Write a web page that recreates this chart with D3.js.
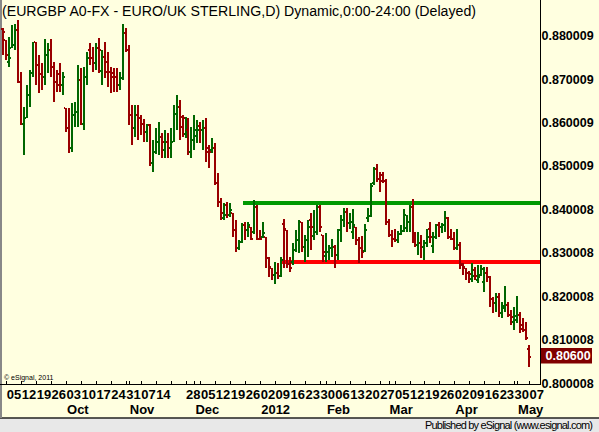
<!DOCTYPE html>
<html>
<head>
<meta charset="utf-8">
<script src="https://d3js.org/d3.v7.min.js"></script>
<style>
  body { margin: 0; background: #fff; }
  svg { display: block; }
  text { font-family: "Liberation Sans", Arial, sans-serif; }
</style>
</head>
<body>
<svg width="599" height="432"></svg>
<script>
// daily EUR/GBP bars, first bar Fri 2 Sep 2011, weekdays only
var firstDay = new Date(2011, 8, 2);
var lastDay = new Date(2012, 4, 7);

var open = [.8815,.8790,.8739,.8772,.8779,.8813,.8694,.8597,.8611,.8664,
  .8714,.8785,.8733,.8712,.8705,.8756,.8767,.8729,.8694,.8712,
  .8687,.8634,.8588,.8541,.8618,.8625,.8698,.8597,.8706,.8767,
  .8748,.8737,.8771,.8719,.8752,.8740,.8717,.8715,.8706,.8687,
  .8702,.8806,.8767,.8618,.8587,.8618,.8610,.8597,.8579,.8594,
  .8506,.8533,.8556,.8567,.8537,.8556,.8541,.8556,.8619,.8636,
  .8614,.8574,.8583,.8533,.8560,.8569,.8592,.8583,.8587,.8541,
  .8537,.8541,.8460,.8418,.8380,.8410,.8387,.8392,.8353,.8311,
  .8326,.8364,.8353,.8360,.8349,.8406,.8333,.8336,.8337,.8287,
  .8264,.8249,.8253,.8247,.8366,.8353,.8274,.8279,.8307,.8330,
  .8371,.8314,.8330,.8376,.8339,.8349,.8406,.8341,.8293,.8303,
  .8310,.8314,.8295,.8353,.8376,.8395,.8368,.8348,.8360,.8330,
  .8310,.8304,.8380,.8385,.8460,.8493,.8469,.8479,.8466,.8372,
  .8341,.8333,.8330,.8343,.8350,.8357,.8372,.8406,.8330,.8318,
  .8323,.8314,.8323,.8355,.8316,.8336,.8364,.8360,.8363,.8380,
  .8336,.8333,.8310,.8318,.8274,.8265,.8253,.8240,.8260,.8237,
  .8249,.8233,.8254,.8245,.8193,.8184,.8199,.8161,.8173,.8180,
  .8157,.8141,.8145,.8157,.8134,.8122,.8078];

var high = [.8817,.8790,.8798,.8825,.8827,.8836,.8717,.8637,.8687,.8721,
  .8786,.8786,.8756,.8737,.8793,.8783,.8793,.8740,.8721,.8737,
  .8717,.8634,.8634,.8645,.8648,.8733,.8725,.8729,.8763,.8783,
  .8775,.8783,.8794,.8767,.8786,.8763,.8729,.8725,.8725,.8717,
  .8827,.8817,.8779,.8641,.8641,.8641,.8618,.8608,.8598,.8598,
  .8560,.8587,.8602,.8575,.8583,.8575,.8587,.8641,.8664,.8652,
  .8618,.8614,.8610,.8591,.8618,.8606,.8602,.8606,.8610,.8548,
  .8565,.8552,.8483,.8426,.8415,.8417,.8415,.8392,.8376,.8330,
  .8368,.8372,.8372,.8360,.8422,.8410,.8353,.8371,.8337,.8291,
  .8264,.8280,.8277,.8291,.8377,.8353,.8290,.8323,.8353,.8376,
  .8372,.8341,.8376,.8391,.8399,.8410,.8410,.8341,.8345,.8318,
  .8333,.8318,.8356,.8387,.8403,.8403,.8391,.8400,.8360,.8337,
  .8339,.8366,.8403,.8460,.8498,.8504,.8487,.8487,.8469,.8378,
  .8353,.8355,.8351,.8364,.8400,.8387,.8410,.8423,.8349,.8349,
  .8341,.8330,.8354,.8372,.8349,.8366,.8372,.8369,.8396,.8383,
  .8356,.8349,.8356,.8326,.8276,.8266,.8257,.8276,.8268,.8272,
  .8272,.8268,.8267,.8247,.8198,.8208,.8207,.8187,.8224,.8187,
  .8168,.8176,.8201,.8164,.8149,.8141,.8088];

var low = [.8756,.8744,.8729,.8771,.8767,.8691,.8595,.8525,.8611,.8637,
  .8706,.8687,.8668,.8675,.8687,.8714,.8706,.8648,.8671,.8671,
  .8664,.8579,.8530,.8532,.8591,.8591,.8595,.8583,.8687,.8733,
  .8717,.8721,.8714,.8687,.8702,.8683,.8668,.8671,.8671,.8675,
  .8698,.8763,.8595,.8548,.8568,.8560,.8571,.8556,.8556,.8500,
  .8486,.8528,.8525,.8518,.8518,.8518,.8518,.8556,.8583,.8560,
  .8568,.8564,.8525,.8518,.8537,.8553,.8552,.8537,.8510,.8495,
  .8530,.8456,.8406,.8376,.8376,.8380,.8383,.8336,.8302,.8306,
  .8322,.8330,.8337,.8330,.8343,.8330,.8330,.8334,.8264,.8245,
  .8237,.8228,.8240,.8245,.8264,.8265,.8256,.8272,.8302,.8300,
  .8303,.8280,.8291,.8306,.8330,.8341,.8349,.8280,.8280,.8283,
  .8291,.8264,.8283,.8326,.8360,.8349,.8356,.8333,.8318,.8276,
  .8288,.8303,.8371,.8383,.8456,.8464,.8441,.8460,.8364,.8336,
  .8314,.8326,.8322,.8341,.8349,.8349,.8349,.8323,.8314,.8295,
  .8287,.8283,.8314,.8322,.8299,.8333,.8336,.8346,.8349,.8333,
  .8330,.8306,.8306,.8262,.8249,.8237,.8230,.8233,.8237,.8230,
  .8247,.8210,.8233,.8176,.8162,.8164,.8153,.8149,.8164,.8153,
  .8134,.8122,.8138,.8115,.8118,.8099,.8038];

var close = [.8808,.8756,.8748,.8779,.8813,.8694,.8597,.8611,.8664,.8714,
  .8785,.8733,.8712,.8705,.8756,.8767,.8729,.8694,.8687,.8687,
  .8705,.8588,.8541,.8618,.8625,.8698,.8597,.8706,.8748,.8748,
  .8737,.8771,.8767,.8752,.8717,.8717,.8706,.8706,.8687,.8702,
  .8806,.8767,.8618,.8587,.8618,.8610,.8597,.8579,.8594,.8506,
  .8533,.8556,.8567,.8556,.8556,.8541,.8556,.8619,.8636,.8591,
  .8610,.8583,.8533,.8560,.8583,.8583,.8583,.8587,.8533,.8533,
  .8541,.8460,.8418,.8391,.8387,.8387,.8399,.8353,.8311,.8326,
  .8364,.8353,.8364,.8333,.8406,.8333,.8332,.8346,.8287,.8268,
  .8249,.8253,.8247,.8283,.8355,.8274,.8265,.8307,.8330,.8371,
  .8314,.8330,.8360,.8360,.8349,.8406,.8360,.8303,.8303,.8310,
  .8314,.8295,.8353,.8376,.8395,.8368,.8372,.8364,.8330,.8310,
  .8303,.8353,.8385,.8454,.8493,.8469,.8466,.8466,.8372,.8341,
  .8333,.8330,.8343,.8350,.8387,.8372,.8406,.8330,.8318,.8323,
  .8314,.8323,.8336,.8336,.8336,.8364,.8360,.8363,.8380,.8336,
  .8333,.8310,.8318,.8272,.8267,.8253,.8251,.8247,.8247,.8245,
  .8262,.8254,.8245,.8193,.8184,.8199,.8161,.8177,.8180,.8157,
  .8153,.8154,.8157,.8124,.8122,.8103,.8060];

var priceTicks = [0.880009, 0.870009, 0.860009, 0.850009, 0.840008, 0.830008, 0.820008, 0.810008, 0.800008];
var lastPrice = 0.806;
var resistance = { from: new Date(2011, 11, 23), price: 0.8414 };
var support = { from: new Date(2012, 0, 11), price: 0.8279 };
var skipDayLabels = ["2011-11-21"];

var title = "(EURGBP A0-FX - EURO/UK STERLING,D) Dynamic,0:00-24:00 (Delayed)";

var svg = d3.select("svg"),
    width = +svg.attr("width"),
    height = +svg.attr("height");

var plotRight = 540, plotBottom = 384;
var upColor = "#006600", downColor = "#990000";

var days = d3.timeDay.range(firstDay, d3.timeDay.offset(lastDay, 1))
  .filter(function(d) { return d.getDay() != 0 && d.getDay() != 6; });

var bars = days.map(function(d, i) {
  return { date: d, i: i, o: open[i], h: high[i], l: low[i], c: close[i] };
});

var x = d3.scaleLinear().domain([0, days.length - 1]).range([3.3, 529]);
var y = d3.scaleLinear().domain([0.800008, 0.880009]).range([383, 35.8]);
var fmtKey = d3.timeFormat("%Y-%m-%d");
function indexOf(date) { return d3.bisector(function(d) { return d; }).left(days, date); }

// background
svg.append("rect").attr("width", width).attr("height", height).attr("fill", "#ffffe0");

// footer
svg.append("rect").attr("x", 0).attr("y", 418).attr("width", width).attr("height", 14).attr("fill", "#e8e8e8");
svg.append("line").attr("x1", 0).attr("x2", width).attr("y1", 418).attr("y2", 418)
  .attr("stroke", "#222").attr("stroke-width", 1.5);
svg.append("text").attr("x", 593).attr("y", 428.5).attr("text-anchor", "end")
  .attr("textLength", 168).attr("lengthAdjust", "spacing")
  .style("font-size", "11px").text("Published by eSignal (www.esignal.com)");

// frame
svg.append("line").attr("x1", 1).attr("x2", 1).attr("y1", 0).attr("y2", 418)
  .attr("stroke", "#888").attr("stroke-width", 2);
svg.append("line").attr("x1", plotRight + 0.5).attr("x2", plotRight + 0.5).attr("y1", 0).attr("y2", plotBottom + 1)
  .attr("stroke", "#000");
svg.append("line").attr("x1", 0).attr("x2", plotRight).attr("y1", plotBottom + 0.5).attr("y2", plotBottom + 0.5)
  .attr("stroke", "#000");

// support / resistance lines
svg.append("rect")
  .attr("x", Math.round(x(indexOf(resistance.from))) + 1)
  .attr("y", Math.round(y(resistance.price)) - 2)
  .attr("width", plotRight - Math.round(x(indexOf(resistance.from))) - 1)
  .attr("height", 4).attr("fill", "#009900");
svg.append("rect")
  .attr("x", Math.round(x(indexOf(support.from))) - 1)
  .attr("y", Math.round(y(support.price)) - 2)
  .attr("width", plotRight - Math.round(x(indexOf(support.from))) + 1)
  .attr("height", 4).attr("fill", "#ff0000");

// OHLC bars
var bar = svg.append("g").attr("class", "bars").attr("shape-rendering", "crispEdges")
  .selectAll("g").data(bars).enter().append("g")
  .attr("fill", function(d) { return d.c > d.o ? upColor : downColor; });

bar.append("rect")
  .attr("x", function(d) { return Math.round(x(d.i)) - 1; })
  .attr("y", function(d) { return Math.round(y(d.h)); })
  .attr("width", 2)
  .attr("height", function(d) { return Math.max(2, Math.round(y(d.l)) - Math.round(y(d.h))); });
bar.append("rect")
  .attr("x", function(d) { return Math.round(x(d.i)) - 2; })
  .attr("y", function(d) { return Math.round(y(d.o)) - 1; })
  .attr("width", 1).attr("height", 2);
bar.append("rect")
  .attr("x", function(d) { return Math.round(x(d.i)) + 1; })
  .attr("y", function(d) { return Math.round(y(d.c)) - 1; })
  .attr("width", 1).attr("height", 2);

// price axis
svg.append("g").selectAll("text").data(priceTicks).enter().append("text")
  .attr("x", plotRight + 1.5)
  .attr("y", function(d) { return y(d); })
  .attr("dy", "0.36em")
  .style("font-size", "12.5px").style("font-weight", "bold")
  .text(function(d) { return d.toFixed(6); });

svg.append("rect").attr("x", plotRight + 1).attr("y", y(lastPrice) - 9)
  .attr("width", 51).attr("height", 15.5).attr("fill", "#800000");
svg.append("text").attr("x", plotRight + 5.5).attr("y", y(lastPrice) - 1.2).attr("dy", "0.36em")
  .attr("fill", "#fff").style("font-size", "12.5px").style("font-weight", "bold")
  .text(lastPrice.toFixed(5));

// date axis
var mondays = bars.filter(function(d) { return d.date.getDay() == 1; });
var monthStarts = bars.filter(function(d, i) {
  return i > 0 && d.date.getMonth() != bars[i - 1].date.getMonth();
});

svg.append("g").attr("shape-rendering", "crispEdges").selectAll("line")
  .data(mondays.concat(monthStarts)).enter().append("line")
  .attr("x1", function(d) { return Math.round(x(d.i)) + 0.5; })
  .attr("x2", function(d) { return Math.round(x(d.i)) + 0.5; })
  .attr("y1", plotBottom - 3).attr("y2", plotBottom)
  .attr("stroke", "#000");

svg.append("g").selectAll("text")
  .data(mondays.filter(function(d) { return skipDayLabels.indexOf(fmtKey(d.date)) < 0; }))
  .enter().append("text")
  .attr("x", function(d) { return x(d.i) + 0.5; })
  .attr("y", 398.5)
  .style("font-size", "13px").style("font-weight", "bold")
  .text(function(d) { return d3.timeFormat("%d")(d.date); });

svg.append("g").selectAll("text").data(monthStarts).enter().append("text")
  .attr("x", function(d) { return x(d.i) + 1; })
  .attr("y", 414)
  .style("font-size", "13px").style("font-weight", "bold")
  .text(function(d) { return d.date.getMonth() == 0 ? d3.timeFormat("%Y")(d.date) : d3.timeFormat("%b")(d.date); });

// title and copyright
svg.append("text").attr("x", 2).attr("y", 16)
  .attr("textLength", 474).attr("lengthAdjust", "spacingAndGlyphs")
  .style("font-size", "14px").text(title);
svg.append("text").attr("x", 4).attr("y", 380).style("font-size", "7px").text("\u00a9 eSignal, 2011");
</script>
</body>
</html>
